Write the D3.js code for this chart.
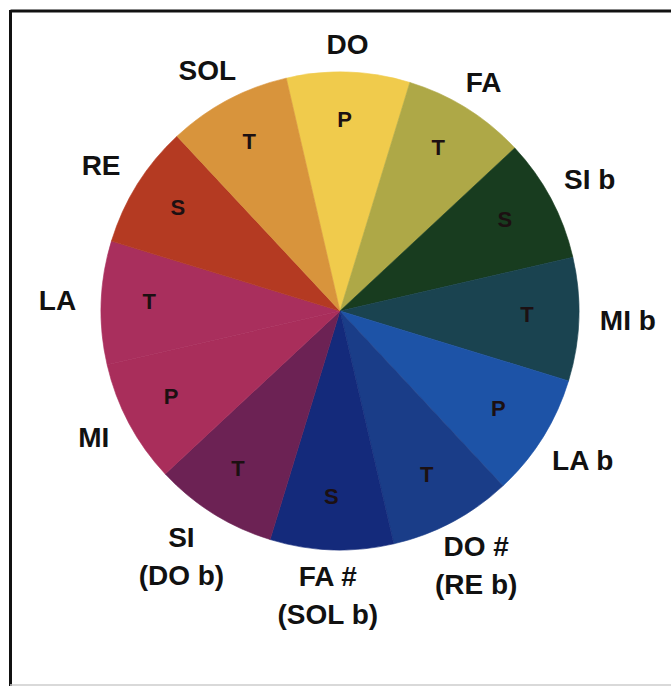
<!DOCTYPE html>
<html>
<head>
<meta charset="utf-8">
<script src="https://cdn.jsdelivr.net/npm/d3@7"></script>
<style>
  html, body { margin: 0; padding: 0; background: #ffffff; }
  svg { display: block; }
</style>
</head>
<body>
<svg id="chart" width="671" height="686"></svg>
<script>
// ---- data ----
const notes   = ["DO", "FA", "SI b", "MI b", "LA b", "DO #", "FA #", "SI", "MI", "LA", "RE", "SOL"];
const subNotes = ["", "", "", "", "", "(RE b)", "(SOL b)", "(DO b)", "", "", "", ""];
const values  = [1, 1, 1, 1, 1, 1, 1, 1, 1, 1, 1, 1];
const roles   = ["P", "T", "S", "T", "P", "T", "S", "T", "P", "T", "S", "T"];
const colors  = ["#f0cb4c", "#aea847", "#183c1f", "#1a4350", "#1d53a7", "#1a3d88",
                 "#142a7b", "#6c2254", "#a92e5b", "#a92f5d", "#b43a22", "#d8943c"];

// ---- layout ----
const W = 671, H = 686;
const cx = 340, cy = 311, R = 239;
const startDeg = -13;

const svg = d3.select("#chart");

// frame
svg.append("line").attr("x1", 10.5).attr("y1", 11).attr("x2", W).attr("y2", 11)
  .attr("stroke", "#111").attr("stroke-width", 3);
svg.append("line").attr("x1", 10.5).attr("y1", 10).attr("x2", 10.5).attr("y2", H)
  .attr("stroke", "#111").attr("stroke-width", 3);
svg.append("line").attr("x1", 10).attr("y1", 685).attr("x2", W).attr("y2", 685)
  .attr("stroke", "#cccccc").attr("stroke-width", 1.5);

const data = notes.map((n, i) => ({ note: n, sub: subNotes[i], value: values[i], role: roles[i], color: colors[i] }));

const pie = d3.pie()
  .value(d => d.value)
  .sort(null)
  .startAngle(startDeg * Math.PI / 180)
  .endAngle((startDeg + 360) * Math.PI / 180);

const arcs = pie(data);
const arc = d3.arc().innerRadius(0).outerRadius(R);
const roleArc = d3.arc().innerRadius(189).outerRadius(189);

const g = svg.append("g").attr("transform", `translate(${cx},${cy})`);

g.selectAll("path.slice")
  .data(arcs)
  .join("path")
  .attr("class", "slice")
  .attr("d", arc)
  .attr("fill", d => d.data.color)
  .attr("stroke", d => d.data.color)
  .attr("stroke-width", 0.6);

// inner role letters
g.selectAll("text.role")
  .data(arcs)
  .join("text")
  .attr("class", "role")
  .attr("transform", d => { const p = roleArc.centroid(d); return `translate(${p[0] - 2},${p[1] - 3})`; })
  .attr("text-anchor", "middle")
  .attr("dominant-baseline", "central")
  .attr("font-family", "Liberation Sans, Arial, sans-serif")
  .attr("font-weight", "bold")
  .attr("font-size", 22)
  .attr("fill", "#1c1012")
  .text(d => d.data.role);

// outer labels
const lcx = -2, lcy = -1;       // label ring centre relative to pie centre
const baseRx = 262, baseRy = 256;
const fs = 28, lineGap = 38;
arcs.forEach(d => {
  const a = (d.startAngle + d.endAngle) / 2;
  const s = Math.sin(a), c = -Math.cos(a);
  const t = g.append("text")
    .attr("text-anchor", "middle")
    .attr("font-family", "Liberation Sans, Arial, sans-serif")
    .attr("font-weight", "bold")
    .attr("font-size", fs)
    .attr("fill", "#111");
  const lines = d.data.sub ? [d.data.note, d.data.sub] : [d.data.note];
  lines.forEach((ln, i) => {
    t.append("tspan").attr("x", 0).attr("dy", i === 0 ? 0 : lineGap).text(ln);
  });
  const bb = t.node().getBBox();
  const w = bb.width, h = (lines.length - 1) * lineGap + fs * 0.72;
  const e = Math.hypot(s * w / 2, c * h / 2);
  const px = lcx + s * (baseRx + e), py = lcy + c * (baseRy + e);
  const top = py - h / 2;
  t.attr("transform", `translate(${px},${top + fs * 0.72})`);
});
</script>
</body>
</html>
